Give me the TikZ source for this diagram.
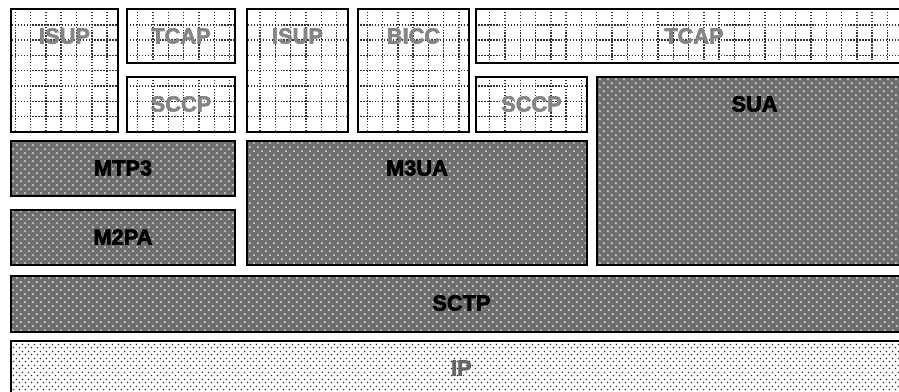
\documentclass[tikz,border=0pt]{standalone}
\usepackage{fontspec}
\setmainfont{Liberation Sans}
\newfontfamily\heavyfont{Liberation Sans Bold}[FakeBold=3]
\usetikzlibrary{patterns,patterns.meta}

% sparse dots for the network layer, light spots for the middle layers
\tikzdeclarepattern{
    name=sparsedots, type=uncolored,
    bounding box={(0pt,0pt) and (4.6pt,4.6pt)},
    tile size={(4.6pt,4.6pt)},
    code={\fill (1.15pt,1.15pt) circle (0.62pt); \fill (3.45pt,3.45pt) circle (0.62pt);}
}
\tikzdeclarepattern{
    name=spots, type=uncolored,
    bounding box={(0pt,0pt) and (5.6pt,5.6pt)},
    tile size={(5.6pt,5.6pt)},
    code={\fill (1.4pt,1.4pt) circle (0.8pt); \fill (4.2pt,4.2pt) circle (0.8pt);}
}

\tikzset{
  layer/.style={draw=black, line width=1.4pt},
  gridline/.style={line width=1pt, black!80, dash pattern=on 1pt off 1.1pt},
  hatch/.style={layer, preaction={fill=black!57}, pattern=spots, pattern color=white!85!black},
  sand/.style={layer, pattern=sparsedots, pattern color=black!80},
  upper/.style={font=\heavyfont\fontsize{15.5}{16}\selectfont, text=black!48},
  lower/.style={font=\heavyfont\fontsize{15.5}{16}\selectfont, text=black},
}

\begin{document}
\begin{tikzpicture}[x=0.025cm, y=-0.025cm]
    \clip (0,0) rectangle (899,391);

    % upper layer: boxes with a dotted grid
    \foreach \n/\xa/\ya/\xb/\yb/\lbl in {isupA/11/9/118/132/ISUP, tcapA/127/9/235/63/TCAP,
        sccpA/127/77/235/132/SCCP, isupB/247/9/348/132/ISUP, bicc/358/9/469/132/BICC,
        tcapB/476/9/912/63/TCAP, sccpB/476/77/587/132/SCCP} {
        \begin{scope}
            \clip (\xa,\ya) rectangle (\xb,\yb);
            \foreach \k in {0,...,60}
                \draw[gridline] (\k*15.3, 0) -- (\k*15.3, 140);
            \foreach \k in {0,...,8}
                \draw[gridline] (0, 9.5+\k*15.3) -- (920, 9.5+\k*15.3);
        \end{scope}
        \draw[layer] (\xa,\ya) rectangle (\xb,\yb);
        \node[upper] (\n) at ({(\xa+\xb)/2}, \ya+27) {\lbl};
    }

    % adaptation layer and transport
    \foreach \n/\xa/\ya/\xb/\yb/\lbl in {sua/597/77/912/265/SUA, mtp/11/141/235/196/MTP3,
        mpa/11/210/235/265/M2PA, mua/247/141/587/265/M3UA, sctp/11/276/912/332/SCTP} {
        \draw[hatch] (\xa,\ya) rectangle (\xb,\yb);
        \node[lower] (\n) at ({(\xa+\xb)/2}, \ya+27) {\lbl};
    }

    % network layer
    \draw[sand] (11,341) rectangle (912,396);
    \node[upper, text=black!60] (ip) at (461.5,368) {IP};
\end{tikzpicture}
\end{document}
